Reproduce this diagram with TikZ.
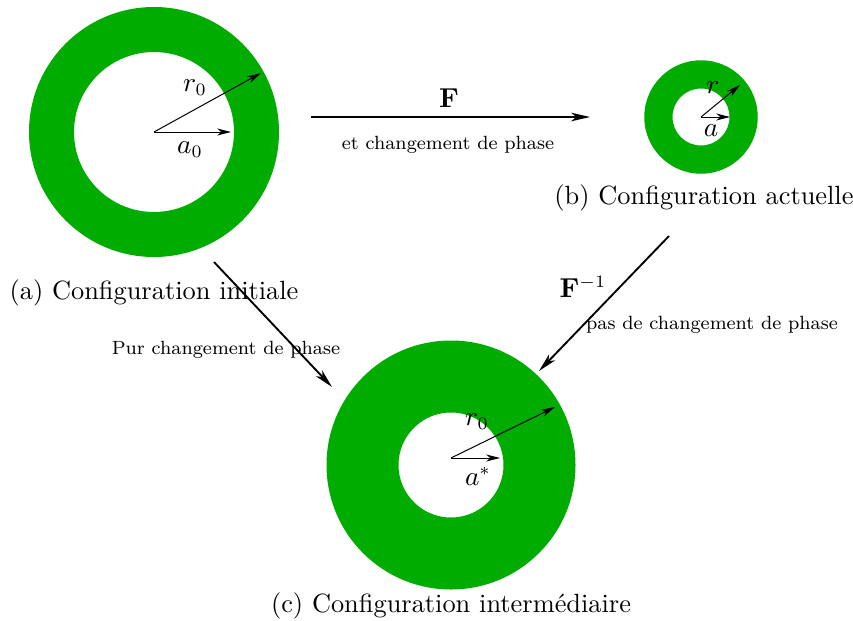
\documentclass[tikz,border=0pt]{standalone}
\usetikzlibrary{arrows.meta}
\definecolor{ringgreen}{RGB}{0,172,0}
\begin{document}
\begin{tikzpicture}[x=0.4pt,y=-0.4pt,
  ring/.style={fill=ringgreen,even odd rule},
  radarrow/.style={-{Stealth[length=5.5pt,width=2.8pt,inset=1.6pt]},line width=0.4pt},
  bigarrow/.style={-{Stealth[length=7.5pt,width=3.4pt,inset=2pt]},line width=0.75pt},
  txt/.style={inner sep=0pt,font=\fontsize{10.55}{12.7}\selectfont},
  smalltxt/.style={inner sep=0pt,font=\fontsize{7.65}{9.2}\selectfont}]
\useasboundingbox (0,0) rectangle (853,620);
% ring a
\coordinate (ca) at (154,132);
\fill[ring] (ca) circle (50pt) (ca) circle (32pt);
\coordinate (ra) at (261,73);
\coordinate (aa) at (231,132);
\draw[radarrow] (ca) -- (ra);
\draw[radarrow] (ca) -- (aa);
\node[txt] (lra) at (195,88) {$r_0$};
\node[txt] (laa) at (190,150) {$a_0$};
\node[txt] (capa) at (154,293) {(a) Configuration initiale};
% ring b
\coordinate (cb) at (701,117);
\fill[ring] (cb) circle (22.7pt) (cb) circle (11.4pt);
\coordinate (rb) at (740,85);
\coordinate (ab) at (730,117);
\draw[radarrow] (cb) -- (rb);
\draw[radarrow] (cb) -- (ab);
\node[txt] (lrb) at (713,88) {$r$};
\node[txt] (lab) at (711,131) {$a$};
\node[txt] (capb) at (704,198) {(b) Configuration actuelle};
% ring c
\coordinate (cc) at (451,465);
\fill[ring] (cc) circle (49.8pt) (cc) circle (21pt);
\coordinate (oc) at (451,458);
\coordinate (rc) at (555,407);
\coordinate (ac) at (500,458);
\draw[radarrow] (oc) -- (rc);
\draw[radarrow] (oc) -- (ac);
\node[txt] (lrc) at (477,422) {$r_0$};
\node[txt] (lac) at (478,476) {$a^*$};
\node[txt] (capc) at (451,606) {(c) Configuration interm\'ediaire};
% connectors
\coordinate (f1) at (311,117);
\coordinate (f2) at (590,117);
\draw[bigarrow] (f1) -- (f2);
\node[txt] (lF) at (449,98) {$\mathbf{F}$};
\node[smalltxt] (lF2) at (448,145) {et changement de phase};
\coordinate (g1) at (669,236);
\coordinate (g2) at (539,371);
\draw[bigarrow] (g1) -- (g2);
\node[txt] (lG) at (583,287) {$\mathbf{F}^{-1}$};
\node[smalltxt] (lG2) at (712,325) {pas de changement de phase};
\coordinate (h1) at (214,262);
\coordinate (h2) at (332,387);
\draw[bigarrow] (h1) -- (h2);
\node[smalltxt] (lH) at (226,350) {Pur changement de phase};
\end{tikzpicture}
\end{document}
